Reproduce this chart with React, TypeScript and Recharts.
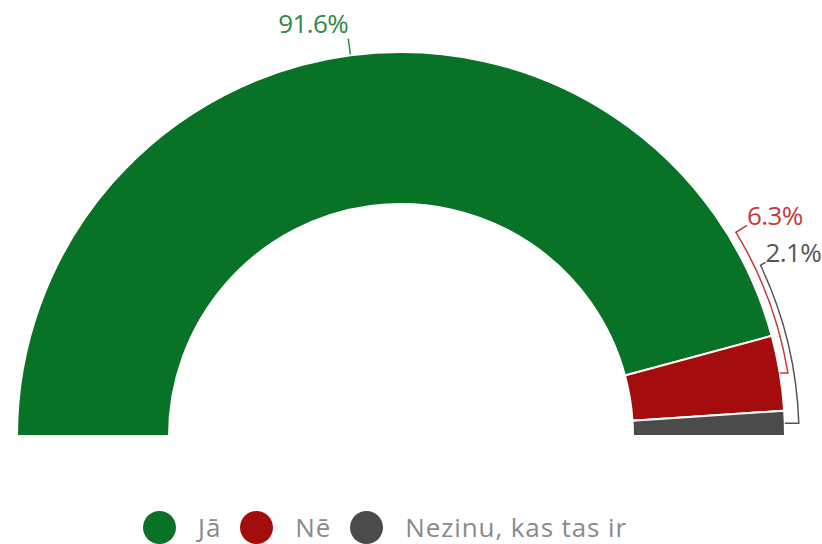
import React from "react";
import { PieChart, Pie, Cell } from "recharts";

const categories = ["Jā", "Nē", "Nezinu, kas tas ir"];
const values = [91.6, 6.3, 2.1];
const labels = ["91.6%", "6.3%", "2.1%"];
const fills = ["#087226", "#a50c0e", "#4b4b4b"];
const labelColors = ["#2f8a45", "#c23b3d", "#555555"];

const data = categories.map((name, i) => ({ name, value: values[i] }));

const RAD = Math.PI / 180;
const pt = (cx: number, cy: number, r: number, a: number) => ({
  x: cx + r * Math.cos(a * RAD),
  y: cy - r * Math.sin(a * RAD),
});

// leader-line styles: radial for the big slice, bracket arc for small ones
const leaderStyles = [
  { kind: "radial", len: 17 },
  { kind: "arc", gap: 8, endAngle: 31.3, hookX: 11, hookY: -7 },
  { kind: "arc", gap: 14, endAngle: 25.4, hookX: 5, hookY: -3 },
];

const renderLabel = (props: any) => {
  const { cx, cy, midAngle, outerRadius, index } = props;
  const st: any = leaderStyles[index];
  const color = labelColors[index];
  const font = { fontFamily: "'Open Sans', sans-serif", fontSize: 26, letterSpacing: -0.6 };
  if (st.kind === "radial") {
    const a = pt(cx, cy, outerRadius + 1, midAngle);
    const b = pt(cx, cy, outerRadius + st.len, midAngle);
    return (
      <g>
        <path d={`M${a.x},${a.y}L${b.x},${b.y}`} stroke={color} strokeWidth={1.5} fill="none" />
        <text x={b.x} y={b.y - 5} textAnchor="end" fill={color} style={font}>
          {labels[index]}
        </text>
      </g>
    );
  }
  const p0 = pt(cx, cy, outerRadius, midAngle);
  const r = outerRadius + st.gap;
  const dy = p0.y - cy;
  const x1 = cx + Math.sqrt(Math.max(r * r - dy * dy, 0));
  const p2 = pt(cx, cy, r, st.endAngle);
  const p3 = { x: p2.x + st.hookX, y: p2.y + st.hookY };
  const d = `M${p0.x},${p0.y}L${x1},${p0.y}A${r},${r} 0 0 0 ${p2.x},${p2.y}L${p3.x},${p3.y}`;
  return (
    <g>
      <path d={d} stroke={color} strokeWidth={1.5} fill="none" />
      <text x={p3.x} y={p3.y} textAnchor="start" fill={color} style={font}>
        {labels[index]}
      </text>
    </g>
  );
};

export default function App() {
  return (
    <div style={{ position: "absolute", left: 0, top: 0, width: 822, height: 544, background: "#fff" }}>
      <PieChart width={822} height={544}>
        <Pie
          data={data}
          dataKey="value"
          nameKey="name"
          cx={396}
          cy={431}
          innerRadius={232}
          outerRadius={384}
          startAngle={180}
          endAngle={0}
          stroke="#ffffff"
          strokeWidth={2}
          label={renderLabel}
          labelLine={false}
          isAnimationActive={false}
        >
          {data.map((d, i) => (
            <Cell key={d.name} fill={fills[i]} />
          ))}
        </Pie>
      </PieChart>
      <div
        style={{
          position: "absolute",
          left: 143,
          top: 509,
          display: "flex",
          alignItems: "center",
          fontFamily: "'Open Sans', sans-serif",
          fontSize: 26,
          letterSpacing: 0.9,
          color: "#8a8a8a",
          whiteSpace: "nowrap",
        }}
      >
        {categories.map((c, i) => (
          <div key={c} style={{ display: "flex", alignItems: "center", marginRight: 19 }}>
            <div style={{ width: 33, height: 33, borderRadius: "50%", background: fills[i], marginRight: 22 }} />
            <span>{c}</span>
          </div>
        ))}
      </div>
    </div>
  );
}
